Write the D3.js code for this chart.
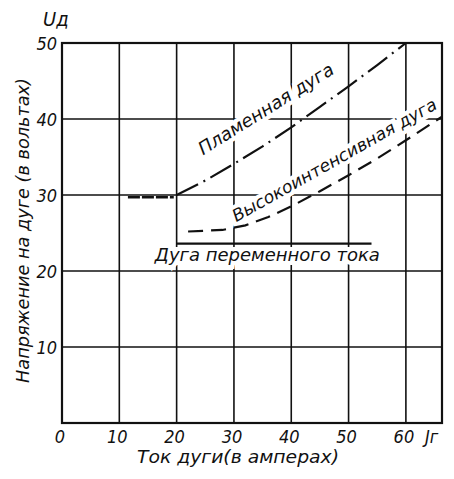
<!DOCTYPE html>
<html>
<head>
<meta charset="utf-8">
<script src="https://cdn.jsdelivr.net/npm/d3@7"></script>
<style>
  body { margin: 0; background: #fff; }
  text { font-family: "DejaVu Sans Condensed", "DejaVu Sans", sans-serif; font-style: italic; fill: #111; }
</style>
</head>
<body>
<script>
// tick values
var xTicks = [0, 10, 20, 30, 40, 50, 60];
var yTicks = [10, 20, 30, 40, 50];

// curves: [ток, напряжение]
var flameFlat = [[11.5, 29.7], [19.5, 29.7]];
var flameArc = [[20, 30], [25, 31.9], [30, 34.1], [35, 36.4], [40, 38.9], [45, 41.6], [50, 44.3], [55, 47.1], [60, 50]];
var highArc = [[22, 25.2], [28, 25.4], [32, 26.0], [36, 27.1], [40, 28.5], [45, 30.5], [50, 32.6], [55, 34.8], [60, 37.2], [66.3, 40.3]];
var acArc = [[20, 23.6], [54, 23.6]];

var width = 454, height = 479;

var svg = d3.select("body").append("svg")
    .attr("width", width)
    .attr("height", height);

var x = d3.scaleLinear().domain([0, 66.3]).range([62, 442]);
var y = d3.scaleLinear().domain([0, 50]).range([423, 43]);

var line = d3.line()
    .x(function(d) { return x(d[0]); })
    .y(function(d) { return y(d[1]); });

// grid
svg.selectAll(".vgrid")
    .data(xTicks.filter(function(d) { return d > 0; }))
  .enter().append("line")
    .attr("x1", function(d) { return x(d); })
    .attr("x2", function(d) { return x(d); })
    .attr("y1", y(0)).attr("y2", y(50))
    .attr("stroke", "#111").attr("stroke-width", 1.6);

svg.selectAll(".hgrid")
    .data(yTicks.filter(function(d) { return d < 50; }))
  .enter().append("line")
    .attr("x1", x(0)).attr("x2", x(66.3))
    .attr("y1", function(d) { return y(d); })
    .attr("y2", function(d) { return y(d); })
    .attr("stroke", "#111").attr("stroke-width", 1.6);

// labels on the curves, white halo cuts the grid like in the print
function label(txt, px, py, angle, len, size) {
  svg.append("text")
      .attr("transform", "translate(" + x(px) + "," + y(py) + ") rotate(" + angle + ")")
      .attr("font-size", size)
      .attr("textLength", len)
      .attr("lengthAdjust", "spacingAndGlyphs")
      .attr("stroke", "#fff")
      .attr("stroke-width", 8)
      .attr("paint-order", "stroke")
      .text(txt);
}
label("Пламенная дуга", 24.6, 35.2, -32, 156, 18);
label("Высокоинтенсивная дуга", 30.4, 26.4, -29.5, 232, 17);
label("Дуга переменного тока", 16.2, 21.3, 0, 225, 17);

// frame
svg.append("rect")
    .attr("x", x(0)).attr("y", y(50))
    .attr("width", x(66.3) - x(0))
    .attr("height", y(0) - y(50))
    .attr("fill", "none")
    .attr("stroke", "#111").attr("stroke-width", 2.2);

// curves
svg.append("path").datum(flameFlat)
    .attr("d", line).attr("fill", "none")
    .attr("stroke", "#111").attr("stroke-width", 2.6)
    .attr("stroke-dasharray", "12,2");

svg.append("path").datum(flameArc)
    .attr("d", line).attr("fill", "none")
    .attr("stroke", "#111").attr("stroke-width", 2.2)
    .attr("stroke-dasharray", "24,6,2,6");

svg.append("path").datum(highArc)
    .attr("d", line).attr("fill", "none")
    .attr("stroke", "#111").attr("stroke-width", 2.2)
    .attr("stroke-dasharray", "15,8");

svg.append("path").datum(acArc)
    .attr("d", line).attr("fill", "none")
    .attr("stroke", "#111").attr("stroke-width", 2.4);

// tick labels
svg.selectAll(".xl")
    .data(xTicks)
  .enter().append("text")
    .attr("x", function(d) { return x(d) - 2; })
    .attr("y", 443)
    .attr("text-anchor", "middle")
    .attr("font-size", 18)
    .text(function(d) { return d; });

svg.selectAll(".yl")
    .data(yTicks)
  .enter().append("text")
    .attr("x", 57)
    .attr("y", function(d) { return y(d) + 7; })
    .attr("text-anchor", "end")
    .attr("font-size", 18)
    .text(function(d) { return d; });

// axis titles
svg.append("text")
    .attr("x", 425).attr("y", 443)
    .attr("font-size", 18)
    .text("Jг");

svg.append("text")
    .attr("x", 43).attr("y", 26)
    .attr("font-size", 20)
    .text("Uд");

svg.append("text")
    .attr("x", 137).attr("y", 463)
    .attr("font-size", 18)
    .attr("textLength", 202)
    .attr("lengthAdjust", "spacingAndGlyphs")
    .text("Ток дуги(в амперах)");

svg.append("text")
    .attr("transform", "translate(29,383) rotate(-90)")
    .attr("font-size", 18)
    .attr("textLength", 305)
    .attr("lengthAdjust", "spacingAndGlyphs")
    .text("Напряжение на дуге (в вольтах)");
</script>
</body>
</html>
